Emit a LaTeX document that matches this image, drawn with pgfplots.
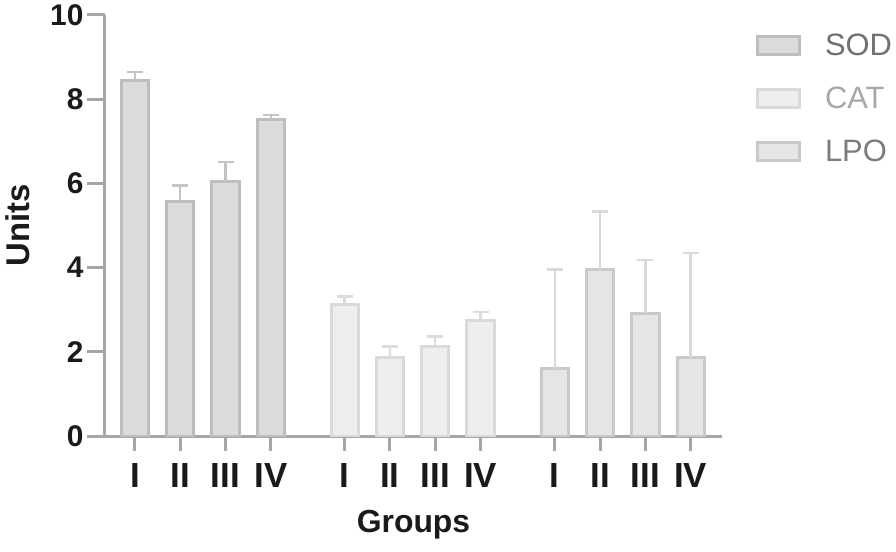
\documentclass[border=0pt]{standalone}
\usepackage{fontspec}
\setmainfont{Liberation Sans}
\usepackage{pgfplots}
\pgfplotsset{compat=1.18}
\usepackage{pgfplotstable}
\definecolor{axisgray}{HTML}{A6A6A6}
\definecolor{sodfill}{HTML}{DCDCDC}
\definecolor{sodedge}{HTML}{BEBEBE}
\definecolor{catfill}{HTML}{EEEEEE}
\definecolor{catedge}{HTML}{DADADA}
\definecolor{lpofill}{HTML}{E5E5E5}
\definecolor{lpoedge}{HTML}{C9C9C9}
\definecolor{soderr}{HTML}{C4C4C4}
\definecolor{caterr}{HTML}{DCDCDC}
\definecolor{lpoerr}{HTML}{DADADA}
\definecolor{sodtxt}{HTML}{707070}
\definecolor{cattxt}{HTML}{A8A8A8}
\definecolor{lpotxt}{HTML}{7C7C7C}
\definecolor{labtxt}{HTML}{1A1A1A}

\pgfplotstableread{
x y e
0 8.45 0.20
1 5.58 0.37
2 6.05 0.46
3 7.52 0.10
}\sod
\pgfplotstableread{
x y e
4.63 3.12 0.19
5.63 1.87 0.26
6.63 2.12 0.24
7.63 2.74 0.21
}\cat
\pgfplotstableread{
x y e
9.27 1.60 2.36
10.27 3.95 1.38
11.27 2.91 1.27
12.27 1.86 2.49
}\lpo

\begin{document}
\begin{tikzpicture}
\begin{axis}[name=ax, scale only axis, width=617bp, height=421bp,
 xmin=-0.66, xmax=12.96, ymin=0, ymax=10,
 axis x line*=bottom, axis y line*=left,
 axis line style={axisgray, line width=3bp},
 ytick={0,2,...,10},
 xtick={0,1,2,3,4.63,5.63,6.63,7.63,9.27,10.27,11.27,12.27},
 xticklabels={I,II,III,IV,I,II,III,IV,I,II,III,IV},
 tick align=outside, major tick length=18bp,
 tick style={axisgray, line width=3bp},
 xtick style={/pgfplots/major tick length=15bp},
 /pgf/number format/assume math mode=true,
 yticklabel style={font=\fontsize{30}{36}\selectfont\bfseries, text=labtxt},
 xticklabel style={font=\fontsize{35}{40}\selectfont\bfseries, text=labtxt, yshift=-6bp},
 ylabel={Units}, xlabel={Groups},
 y label style={at={(axis description cs:-0.141,0.5)}, anchor=center, font=\fontsize{33}{38}\selectfont\bfseries, text=labtxt},
 x label style={at={(axis description cs:0.5,-0.211)}, anchor=center, font=\fontsize{32}{38}\selectfont\bfseries, text=labtxt},
 legend style={draw=none, fill=none, at={(axis description cs:1.05,0.965)}, anchor=north west,
   font=\fontsize{31}{37}\selectfont, row sep=26bp, cells={anchor=west},
   /tikz/every odd column/.append style={column sep=22bp}},
]
\addplot[ybar, bar width=0.6, bar shift=0pt, fill=sodfill, draw=sodedge, line width=3bp,
  legend image code/.code={\draw[fill=sodfill,draw=sodedge,line width=3bp] (0bp,-9bp) rectangle (42bp,9bp);},
  error bars/.cd, y dir=plus, y explicit, error mark=|,
  error bar style={soderr, line width=2.5bp},
  error mark options={soderr, line width=2.5bp, mark size=8bp}]
  table[x=x,y=y,y error=e]{\sod};
\addlegendentry{\textcolor{sodtxt}{SOD}}
\addplot[ybar, bar width=0.6, bar shift=0pt, fill=catfill, draw=catedge, line width=3bp,
  legend image code/.code={\draw[fill=catfill,draw=catedge,line width=3bp] (0bp,-9bp) rectangle (42bp,9bp);},
  error bars/.cd, y dir=plus, y explicit, error mark=|,
  error bar style={caterr, line width=2.5bp},
  error mark options={caterr, line width=2.5bp, mark size=8bp}]
  table[x=x,y=y,y error=e]{\cat};
\addlegendentry{\textcolor{cattxt}{CAT}}
\addplot[ybar, bar width=0.6, bar shift=0pt, fill=lpofill, draw=lpoedge, line width=3bp,
  legend image code/.code={\draw[fill=lpofill,draw=lpoedge,line width=3bp] (0bp,-9bp) rectangle (42bp,9bp);},
  error bars/.cd, y dir=plus, y explicit, error mark=|,
  error bar style={lpoerr, line width=2.5bp},
  error mark options={lpoerr, line width=2.5bp, mark size=8bp}]
  table[x=x,y=y,y error=e]{\lpo};
\addlegendentry{\textcolor{lpotxt}{LPO}}
\end{axis}
\pgfresetboundingbox
\path[use as bounding box] (ax.south west) ++(-105bp,-116bp) rectangle ++(896bp,552bp);
\end{tikzpicture}
\end{document}
